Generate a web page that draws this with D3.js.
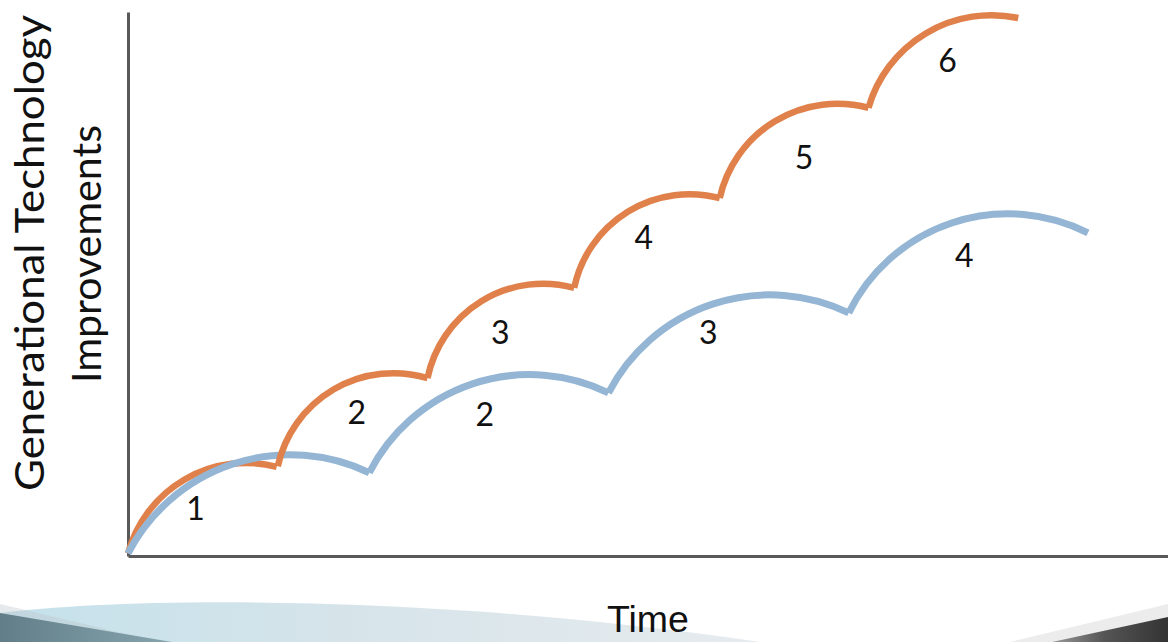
<!DOCTYPE html>
<html>
<head>
<meta charset="utf-8">
<script src="https://cdn.jsdelivr.net/npm/d3@7"></script>
<style>
  html, body { margin: 0; padding: 0; background: #ffffff; }
  svg { display: block; }
</style>
</head>
<body>
<svg id="chart" width="1168" height="642"></svg>
<script>
// Each technology generation is an S-curve segment: it starts where the previous
// one ended, climbs to a peak and flattens out. Values are in arbitrary units:
// time 0-100 along the x axis, improvement 0-100 along the y axis.
// t0/v0 = start, tp/vp = peak, t1/v1 = end, lt/lv = where the generation number sits.
const fastGenerations = [
  { gen: "1", t0: 0.0,  v0: 0.5,  tp: 11.7, vp: 17.1, t1: 14.3, v1: 16.4, lt: 6.5,  lv: 8.8 },
  { gen: "2", t0: 14.4, v0: 16.5, tp: 25.2, vp: 33.6, t1: 28.8, v1: 32.7, lt: 22.0, lv: 26.3 },
  { gen: "3", t0: 28.8, v0: 32.7, tp: 39.1, vp: 50.0, t1: 42.9, v1: 49.3, lt: 35.8, lv: 41.0 },
  { gen: "4", t0: 42.9, v0: 49.3, tp: 53.6, vp: 66.5, t1: 56.9, v1: 65.8, lt: 49.6, lv: 58.6 },
  { gen: "5", t0: 56.9, v0: 65.8, tp: 67.5, vp: 83.1, t1: 71.2, v1: 82.4, lt: 65.0, lv: 73.3 },
  { gen: "6", t0: 71.2, v0: 82.4, tp: 82.6, vp: 99.4, t1: 85.6, v1: 98.9, lt: 78.8, lv: 91.0 }
];

const slowGenerations = [
  { gen: "1", t0: 0.0,  v0: 0.5,  tp: 15.3, vp: 18.6, t1: 23.2, v1: 15.3, lt: null, lv: null },
  { gen: "2", t0: 23.2, v0: 15.3, tp: 37.7, vp: 33.3, t1: 46.2, v1: 30.0, lt: 34.3, lv: 26.1 },
  { gen: "3", t0: 46.2, v0: 30.0, tp: 61.5, vp: 48.0, t1: 69.3, v1: 44.7, lt: 55.8, lv: 41.0 },
  { gen: "4", t0: 69.3, v0: 44.7, tp: 84.6, vp: 62.9, t1: 92.3, v1: 59.4, lt: 80.4, lv: 55.3 }
];

const yTitleLines = ["Generational Technology", "Improvements"];
const xTitle = "Time";

const W = 1168, H = 642;
const svg = d3.select("#chart");

const x = d3.scaleLinear().domain([0, 100]).range([128, 1168]);
const y = d3.scaleLinear().domain([0, 100]).range([556, 12]);

// ---- slide backdrop: soft swoosh along the bottom edge ----
const defs = svg.append("defs");
const gLight = defs.append("linearGradient").attr("id", "swooshLight")
  .attr("x1", "0").attr("y1", "0").attr("x2", "1").attr("y2", "0");
gLight.append("stop").attr("offset", "0%").attr("stop-color", "#c4e1eb");
gLight.append("stop").attr("offset", "45%").attr("stop-color", "#d6e4ea");
gLight.append("stop").attr("offset", "100%").attr("stop-color", "#e6ebee");

const gLeft = defs.append("linearGradient").attr("id", "swooshLeft")
  .attr("x1", "0").attr("y1", "0").attr("x2", "1").attr("y2", "0");
gLeft.append("stop").attr("offset", "0%").attr("stop-color", "#627f89");
gLeft.append("stop").attr("offset", "100%").attr("stop-color", "#86a4ad");

const gRight = defs.append("linearGradient").attr("id", "swooshRight")
  .attr("x1", "0").attr("y1", "0").attr("x2", "1").attr("y2", "0");
gRight.append("stop").attr("offset", "0%").attr("stop-color", "#9a9a9a");
gRight.append("stop").attr("offset", "45%").attr("stop-color", "#555555");
gRight.append("stop").attr("offset", "100%").attr("stop-color", "#333333");

const backdrop = svg.append("g").attr("class", "backdrop");
backdrop.append("path")
  .attr("d", `M0,${H} L0,613 C120,598 420,592 760,${H} Z`)
  .attr("fill", "url(#swooshLight)");
backdrop.append("path")
  .attr("d", `M0,604 L160,${H} L0,${H} Z`)
  .attr("fill", "#b9c4c8").attr("opacity", 0.35);
backdrop.append("path")
  .attr("d", `M0,613 L172,${H} L0,${H} Z`)
  .attr("fill", "url(#swooshLeft)");
backdrop.append("path")
  .attr("d", `M${W},604 L1010,${H} L${W},${H} Z`)
  .attr("fill", "#d9d9d9").attr("opacity", 0.5);
backdrop.append("path")
  .attr("d", `M${W},617 L1052,${H} L${W},${H} Z`)
  .attr("fill", "url(#swooshRight)");

// ---- axes (plain lines, no ticks) ----
const axisColor = "#595959";
svg.append("g")
  .attr("transform", `translate(0,${y(0)})`)
  .call(d3.axisBottom(x).tickValues([]).tickSizeOuter(0))
  .call(g => g.select(".domain").attr("stroke", axisColor).attr("stroke-width", 3));
svg.append("g")
  .attr("transform", `translate(${x(0)},0)`)
  .call(d3.axisLeft(y).tickValues([]).tickSizeOuter(0))
  .call(g => g.select(".domain").attr("stroke", axisColor).attr("stroke-width", 3));

// ---- generation arcs ----
// Each segment is the circular arc through its start, peak and end points.
function circleThrough(a, b, c) {
  const d = 2 * (a[0] * (b[1] - c[1]) + b[0] * (c[1] - a[1]) + c[0] * (a[1] - b[1]));
  const a2 = a[0] * a[0] + a[1] * a[1];
  const b2 = b[0] * b[0] + b[1] * b[1];
  const c2 = c[0] * c[0] + c[1] * c[1];
  const cx = (a2 * (b[1] - c[1]) + b2 * (c[1] - a[1]) + c2 * (a[1] - b[1])) / d;
  const cy = (a2 * (c[0] - b[0]) + b2 * (a[0] - c[0]) + c2 * (b[0] - a[0])) / d;
  return { cx, cy, r: Math.hypot(a[0] - cx, a[1] - cy) };
}

function arcPath(g) {
  const s = [x(g.t0), y(g.v0)];
  const p = [x(g.tp), y(g.vp)];
  const e = [x(g.t1), y(g.v1)];
  const c = circleThrough(s, p, e);
  const a0 = Math.atan2(s[1] - c.cy, s[0] - c.cx);
  let a1 = Math.atan2(e[1] - c.cy, e[0] - c.cx);
  while (a1 < a0) a1 += 2 * Math.PI;
  const path = d3.path();
  path.moveTo(s[0], s[1]);
  path.arc(c.cx, c.cy, c.r, a0, a1, false);
  return path.toString();
}

const fastColor = "#e0804a";
const slowColor = "#94b6d4";
const arcs = svg.append("g").attr("fill", "none").attr("stroke-linecap", "butt");

// first fast generation sits underneath the slow curve
arcs.selectAll("path.fast-first")
  .data(fastGenerations.slice(0, 1))
  .join("path")
  .attr("class", "fast-first")
  .attr("d", arcPath)
  .attr("stroke", fastColor).attr("stroke-width", 6.5);

arcs.selectAll("path.slow")
  .data(slowGenerations)
  .join("path")
  .attr("class", "slow")
  .attr("d", arcPath)
  .attr("stroke", slowColor).attr("stroke-width", 7);

arcs.selectAll("path.fast")
  .data(fastGenerations.slice(1))
  .join("path")
  .attr("class", "fast")
  .attr("d", arcPath)
  .attr("stroke", fastColor).attr("stroke-width", 6.5);

// ---- generation numbers ----
const labelFont = "Lato, 'Open Sans', sans-serif";
const labels = svg.append("g")
  .attr("font-family", labelFont)
  .attr("font-size", 32)
  .attr("fill", "#111111")
  .attr("text-anchor", "middle");

labels.selectAll("text")
  .data(fastGenerations.concat(slowGenerations).filter(d => d.lt !== null))
  .join("text")
  .attr("x", d => x(d.lt))
  .attr("y", d => y(d.lv))
  .attr("dy", "0.36em")
  .text(d => d.gen);

// ---- axis titles ----
const yTitle = svg.append("g")
  .attr("font-family", labelFont)
  .attr("font-size", 40)
  .attr("fill", "#111111")
  .attr("text-anchor", "middle");
yTitle.append("text")
  .attr("transform", "translate(44,253) rotate(-90)")
  .attr("textLength", 476).attr("lengthAdjust", "spacingAndGlyphs")
  .text(yTitleLines[0]);
yTitle.append("text")
  .attr("transform", "translate(101,254) rotate(-90)")
  .attr("textLength", 258).attr("lengthAdjust", "spacingAndGlyphs")
  .text(yTitleLines[1]);

svg.append("text")
  .attr("x", 648).attr("y", 632)
  .attr("font-family", "'Liberation Sans', Arial, sans-serif")
  .attr("font-size", 37)
  .attr("fill", "#111111")
  .attr("text-anchor", "middle")
  .attr("textLength", 82).attr("lengthAdjust", "spacingAndGlyphs")
  .text(xTitle);
</script>
</body>
</html>
